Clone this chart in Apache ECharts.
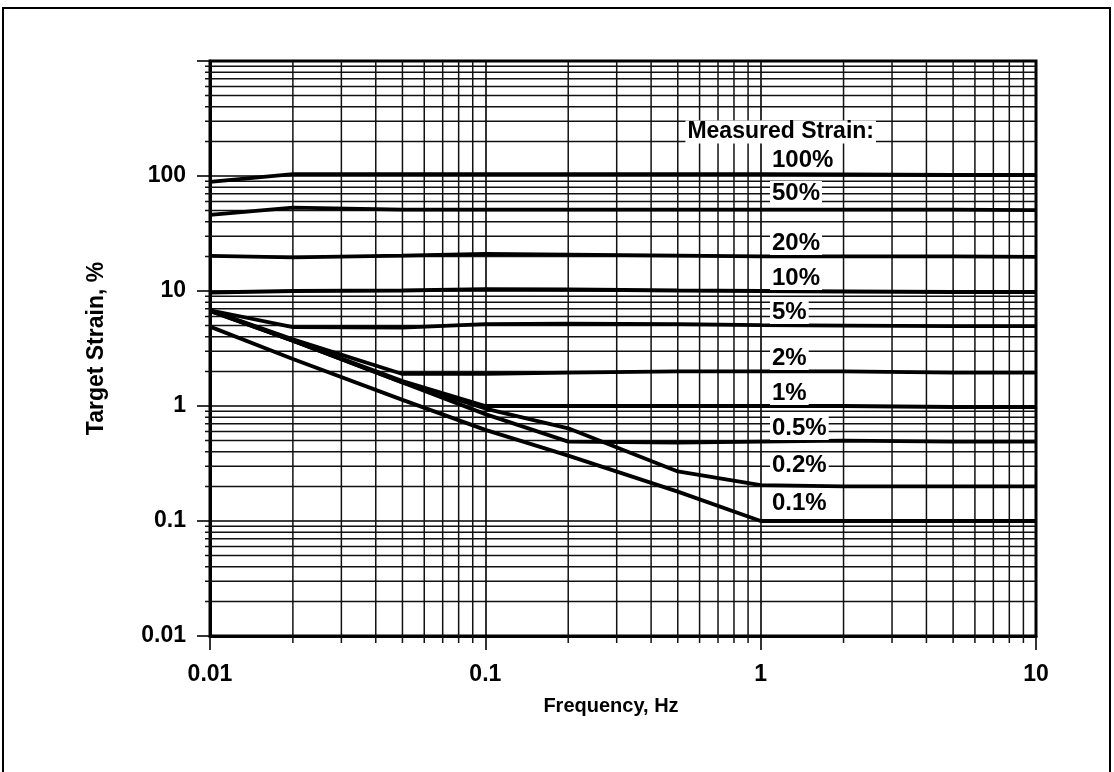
<!DOCTYPE html>
<html>
<head>
<meta charset="utf-8">
<script src="https://cdn.jsdelivr.net/npm/echarts@6/dist/echarts.min.js"></script>
<style>
  html, body { margin: 0; padding: 0; background: #fff; }
  #chart { width: 1114px; height: 772px; }
</style>
</head>
<body>
<div id="chart"></div>
<script>
// ---- data ----
const frequencies = [0.01, 0.02, 0.05, 0.1, 0.2, 0.5, 1, 2, 5, 10];
const strain100 = [89, 104, 104, 104, 104, 104, 104, 103, 102, 102];
const strain50  = [46, 53, 51, 51, 51, 51, 51, 51, 51, 50.5];
const strain20  = [20.2, 19.6, 20.3, 21, 20.7, 20.3, 20, 20, 20, 19.8];
const strain10  = [9.7, 10, 10.1, 10.4, 10.3, 10.1, 10, 9.9, 9.8, 9.8];
const strain5   = [6.8, 4.85, 4.8, 5.15, 5.2, 5.15, 5.05, 5.0, 4.95, 4.95];
const strain2   = [6.8, 3.8, 1.9, 1.9, 1.95, 2.0, 2.0, 2.0, 1.95, 1.95];
const strain1   = [6.8, 3.7, 1.65, 1.0, 1.0, 1.0, 1.0, 1.0, 0.98, 0.98];
const strain05  = [6.7, 3.7, 1.6, 0.85, 0.49, 0.48, 0.49, 0.5, 0.49, 0.49];
const strain02  = [6.7, 3.7, 1.6, 0.95, 0.64, 0.27, 0.205, 0.2, 0.2, 0.2];
const strain01  = [4.9, 2.56, 1.13, 0.62, 0.37, 0.18, 0.1, 0.1, 0.1, 0.1];

const seriesNames = ['100%', '50%', '20%', '10%', '5%', '2%', '1%', '0.5%', '0.2%', '0.1%'];
const seriesValues = [strain100, strain50, strain20, strain10, strain5, strain2, strain1, strain05, strain02, strain01];

const xTickLabels = ['0.01', '0.1', '1', '10'];
const yTickLabels = ['0.01', '0.1', '1', '10', '100', ''];
const xMinorTicks = [0.02,0.03,0.04,0.05,0.06,0.07,0.08,0.09,
                     0.2,0.3,0.4,0.5,0.6,0.7,0.8,0.9,
                     2,3,4,5,6,7,8,9];
const yMinorTicks = [0.02,0.03,0.04,0.05,0.06,0.07,0.08,0.09,
                     0.2,0.3,0.4,0.5,0.6,0.7,0.8,0.9,
                     2,3,4,5,6,7,8,9,
                     20,30,40,50,60,70,80,90,
                     200,300,400,500,600,700,800,900];

// ---- chart ----
const FONT = '"Liberation Sans", Arial, sans-serif';
const chart = echarts.init(document.getElementById('chart'), null, { renderer: 'canvas' });

const X_MIN = 0.01, X_MAX = 10, Y_MIN = 0.01, Y_MAX = 1000;

function fmtTick(list, v) {
  const i = Math.round(Math.log10(v) - Math.log10(list === xTickLabels ? X_MIN : Y_MIN));
  return list[i] !== undefined ? list[i] : '';
}

const lineSeries = seriesNames.map((name, i) => ({
  name: name,
  type: 'line',
  data: frequencies.map((f, j) => [f, seriesValues[i][j]]),
  showSymbol: false,
  symbol: 'none',
  lineStyle: { color: '#000', width: 3.8 },
  z: 10,
  silent: true
}));

const minorX = {
  type: 'custom',
  silent: true,
  clip: false,
  z: 2,
  data: xMinorTicks.map(v => [v, 1]),
  renderItem: function (params, api) {
    const v = api.value(0);
    const top = api.coord([v, Y_MAX]);
    const bot = api.coord([v, Y_MIN]);
    return {
      type: 'line',
      shape: { x1: top[0], y1: top[1], x2: bot[0], y2: bot[1] + 7 },
      style: { stroke: '#111', lineWidth: 1.5 }
    };
  }
};

const minorY = {
  type: 'custom',
  silent: true,
  clip: false,
  z: 2,
  data: yMinorTicks.map(v => [1, v]),
  renderItem: function (params, api) {
    const v = api.value(1);
    const l = api.coord([X_MIN, v]);
    const r = api.coord([X_MAX, v]);
    return {
      type: 'line',
      shape: { x1: l[0] - 5, y1: l[1], x2: r[0], y2: r[1] },
      style: { stroke: '#111', lineWidth: 1.5 }
    };
  }
};

const labelTexts = ['Measured Strain:'].concat(seriesNames);
const labelLeft = [876, 770, 770, 770, 770, 770, 770, 770, 770, 770, 770];
const labelMidY = [132, 160, 193, 243, 278, 312, 358, 393, 428, 465, 503];

const graphics = [
  {
    type: 'rect',
    shape: { x: 3, y: 8, width: 1107, height: 790 },
    style: { fill: 'none', stroke: '#000', lineWidth: 2 },
    silent: true, z: 0
  }
];
labelTexts.forEach((t, i) => {
  graphics.push({
    type: 'text',
    x: labelLeft[i],
    y: labelMidY[i],
    z: 100,
    silent: true,
    style: {
      text: t,
      fill: '#000',
      font: 'bold ' + (i === 0 ? 23 : 24) + 'px ' + FONT,
      backgroundColor: '#fff',
      padding: [0, 2, 0, 2],
      align: i === 0 ? 'right' : 'left',
      verticalAlign: 'middle'
    }
  });
});

chart.setOption({
  animation: false,
  backgroundColor: '#fff',
  grid: {
    left: 210, top: 61, width: 826, height: 575,
    show: true, borderColor: '#000', borderWidth: 3,
    containLabel: false
  },
  xAxis: {
    type: 'log',
    logBase: 10,
    min: X_MIN, max: X_MAX,
    name: 'Frequency, Hz',
    nameLocation: 'middle',
    nameGap: 60,
    nameTextStyle: { fontFamily: FONT, fontWeight: 'bold', fontSize: 20, color: '#000', padding: [0, 24, 0, 0] },
    axisLine: { show: true, lineStyle: { color: '#000', width: 3 } },
    axisTick: { show: true, inside: false, length: 14, lineStyle: { color: '#000', width: 1.6 } },
    axisLabel: {
      margin: 27,
      fontFamily: FONT, fontWeight: 'bold', fontSize: 23, color: '#000',
      formatter: v => fmtTick(xTickLabels, v)
    },
    splitLine: { show: true, lineStyle: { color: '#000', width: 1.6 } },
    minorTick: { show: false },
    minorSplitLine: { show: false }
  },
  yAxis: {
    type: 'log',
    logBase: 10,
    min: Y_MIN, max: Y_MAX,
    name: 'Target Strain, %',
    nameLocation: 'middle',
    nameGap: 102,
    nameRotate: 90,
    nameTextStyle: { fontFamily: FONT, fontWeight: 'bold', fontSize: 23, color: '#000' },
    axisLine: { show: true, lineStyle: { color: '#000', width: 3 } },
    axisTick: { show: true, inside: false, length: 13, lineStyle: { color: '#000', width: 1.6 } },
    axisLabel: {
      margin: 24,
      fontFamily: FONT, fontWeight: 'bold', fontSize: 23, color: '#000',
      formatter: v => fmtTick(yTickLabels, v)
    },
    splitLine: { show: true, lineStyle: { color: '#000', width: 1.6 } },
    minorTick: { show: false },
    minorSplitLine: { show: false }
  },
  graphic: graphics,
  series: [minorX, minorY].concat(lineSeries)
});
</script>
</body>
</html>
